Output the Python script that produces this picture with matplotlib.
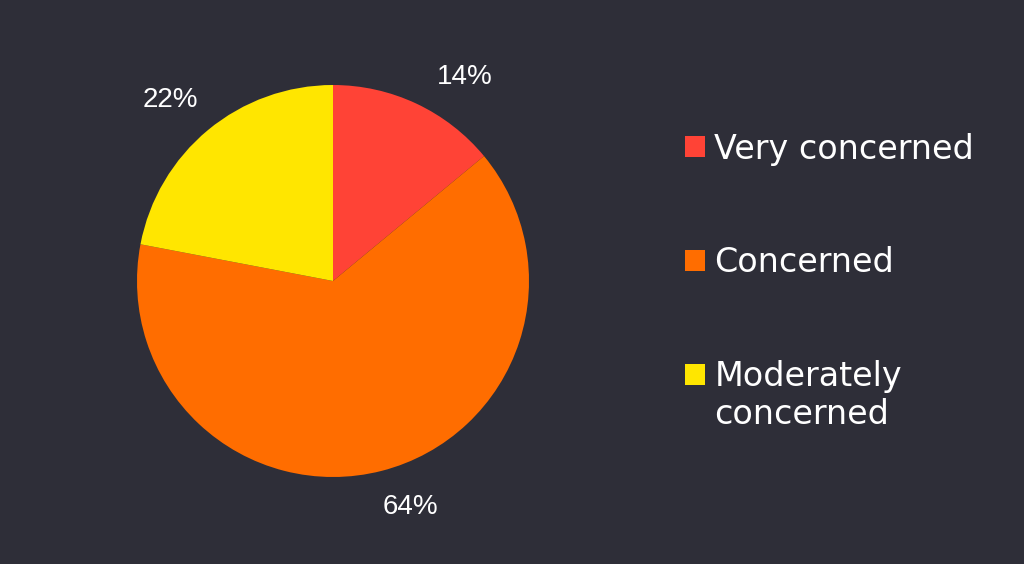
import numpy as np
import matplotlib.pyplot as plt

plt.rcParams['font.family'] = ['Liberation Sans', 'DejaVu Sans']

labels = ['Very concerned', 'Concerned', 'Moderately']
values = [14, 64, 22]
colors = ['#FF4336', '#FF6D00', '#FFE600']
bg = '#2E2E38'

# label placement tweaks (degrees off wedge middle, radius)
ang_shift = [-7.7, 4.6, 2.4]
label_r = [1.24, 1.22, 1.24]

fig = plt.figure(figsize=(10.24, 5.64), dpi=100)
fig.patch.set_facecolor(bg)

ax = fig.add_axes([137/1024, 87/564, 392/1024, 392/564])
ax.set_facecolor(bg)
wedges, texts, autotexts = ax.pie(values, colors=colors, startangle=90, counterclock=False,
                                  autopct='%d%%',
                                  textprops={'color': 'white', 'fontsize': 20,
                                             'family': 'Liberation Sans'})
for w, t, da, r in zip(wedges, autotexts, ang_shift, label_r):
    a = np.deg2rad((w.theta1 + w.theta2) / 2 + da)
    t.set_position((r * np.cos(a), r * np.sin(a)))
ax.set_xlim(-1, 1)
ax.set_ylim(-1, 1)
ax.set_aspect('equal')

leg = fig.legend(wedges, labels, loc='upper left', bbox_to_anchor=(0.669, 0.765),
                 frameon=False, borderpad=0, borderaxespad=0,
                 prop={'family': 'DejaVu Sans', 'size': 24}, labelcolor='white',
                 handlelength=0.6, handleheight=0.6, handletextpad=0.28,
                 labelspacing=2.42)

# second line of the last legend label
ax.annotate('concerned', xy=(0, 0), xycoords=leg.get_texts()[2],
            xytext=(0, -22.5), textcoords='offset points', va='baseline', ha='left',
            color='white', family='DejaVu Sans', fontsize=24, annotation_clip=False)

fig.canvas.draw()
fig.savefig('out.png', dpi=100, facecolor=bg)
